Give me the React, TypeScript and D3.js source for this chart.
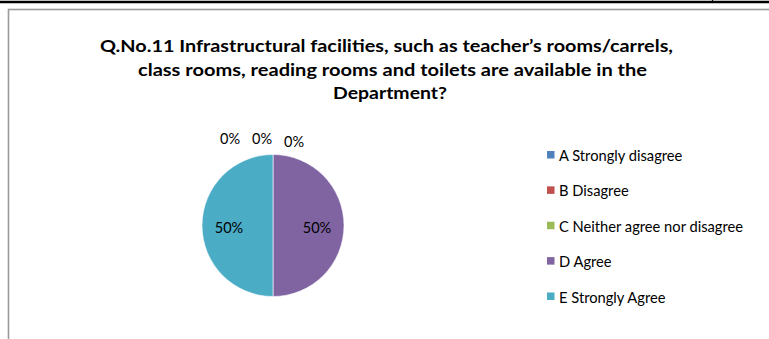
import React from "react";
import * as d3 from "d3";

const titleLines = [
  "Q.No.11 Infrastructural facilities, such as teacher\u2019s rooms/carrels,",
  "class rooms, reading rooms and toilets are available in the",
  "Department?",
];
const categories = [
  "A Strongly disagree",
  "B Disagree",
  "C Neither agree nor disagree",
  "D Agree",
  "E Strongly Agree",
];
const values = [0, 0, 0, 50, 50];
const colors = ["#4F81BD", "#C0504D", "#9BBB59", "#8064A2", "#4BACC6"];

const W = 769;
const H = 339;
const FONT = "Lato, 'Open Sans', sans-serif";

export default function App() {
  const cx = 273;
  const cy = 225.5;
  const r = 71;
  const total = d3.sum(values);
  const pie = d3.pie<number>().sort(null).startAngle(0).endAngle(2 * Math.PI);
  const arcs = pie(values);
  const arc = d3.arc<d3.PieArcDatum<number>>().innerRadius(0).outerRadius(r);
  const labelArc = d3
    .arc<d3.PieArcDatum<number>>()
    .innerRadius(r * 0.62)
    .outerRadius(r * 0.62);
  const outerArc = d3
    .arc<d3.PieArcDatum<number>>()
    .innerRadius(r * 1.2)
    .outerRadius(r * 1.2);

  const legendY = d3.scaleLinear().domain([0, categories.length - 1]).range([155, 296.5]);

  const zeroIdx = arcs.map((a, i) => (a.value === 0 ? i : -1)).filter((i) => i >= 0);
  const titleX = [100, 138, 333];
  const titleLen = [573, 509, 114];
  const titleY = [51.5, 75.5, 99];

  return (
    <svg width={W} height={H} style={{ position: "absolute", left: 0, top: 0 }}>
      <rect x={0} y={0} width={W} height={H} fill="#ffffff" />
      <line x1={0} y1={2} x2={W} y2={2} stroke="#000" strokeWidth={2.5} />
      <line x1={712.5} y1={0} x2={712.5} y2={3} stroke="#000" strokeWidth={1.2} />
      <rect x={8.5} y={9.5} width={W + 10} height={H + 10} fill="none" stroke="#9a9a9a" strokeWidth={1.6} />
      {titleLines.map((t, i) => (
        <text
          key={i}
          x={titleX[i]}
          y={titleY[i]}
          textLength={titleLen[i]}
          lengthAdjust="spacingAndGlyphs"
          fontFamily={FONT}
          fontWeight="bold"
          fontSize={17.5}
          fill="#000"
        >
          {t}
        </text>
      ))}
      <g transform={`translate(${cx},${cy})`}>
        {arcs.map((a, i) => (
          <path key={i} d={arc(a) || ""} fill={colors[i]} stroke="#ffffff" strokeWidth={0.6} />
        ))}
        {arcs.map((a, i) => {
          let px: number, py: number;
          if (a.value === 0) {
            const k = zeroIdx.indexOf(i);
            const [ox, oy] = outerArc.centroid(a);
            px = ox + (k - 1) * 32 - 11;
            py = oy + (k === 2 ? 1.4 : -2);
          } else {
            const [lx, ly] = labelArc.centroid(a);
            px = lx;
            py = ly + 2;
          }
          return (
            <text
              key={i}
              x={px}
              y={py}
              textAnchor="middle"
              dominantBaseline="central"
              fontFamily={FONT}
              fontSize={14.5}
              fill="#000"
            >
              {`${Math.round((a.value / total) * 100)}%`}
            </text>
          );
        })}
      </g>
      {categories.map((c, i) => (
        <g key={i} transform={`translate(547,${legendY(i)})`}>
          <rect x={0} y={-4} width={7.5} height={7.5} fill={colors[i]} />
          <text x={12} y={0} dominantBaseline="central" fontFamily={FONT} fontSize={14.7} fill="#000">
            {c}
          </text>
        </g>
      ))}
    </svg>
  );
}
